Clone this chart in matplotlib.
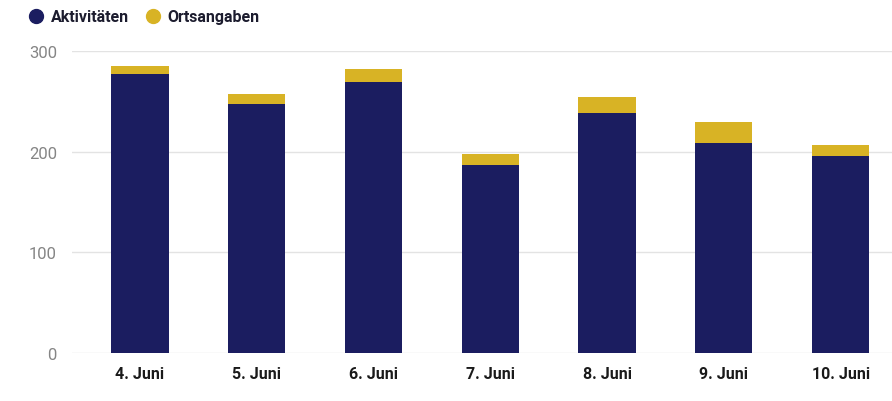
import matplotlib.pyplot as plt
from matplotlib.lines import Line2D

# data
days = ['4. Juni', '5. Juni', '6. Juni', '7. Juni', '8. Juni', '9. Juni', '10. Juni']
aktivitaeten = [277, 247, 269, 187, 238, 209, 196]
ortsangaben = [8, 10, 13, 11, 16, 20, 11]

navy = '#1b1d60'
gold = '#d8b325'

fig = plt.figure(figsize=(8.92, 4.02), dpi=100)
ax = fig.add_axes([0.081, 0.119, 0.919, 0.752])

x = range(len(days))
ax.bar(x, aktivitaeten, width=0.49, color=navy, zorder=3)
ax.bar(x, ortsangaben, width=0.49, bottom=aktivitaeten, color=gold, zorder=3)

ax.set_xlim(-0.58, 6.44)
ax.set_ylim(0, 300)
ax.set_yticks([0, 100, 200, 300])
ax.set_xticks(list(x))
ax.set_xticklabels(days, fontsize=11.5, color='#1a1a1a',
                   family=['Roboto', 'DejaVu Sans'], fontweight='bold')
for lab in ax.get_yticklabels():
    lab.set_fontsize(12)
    lab.set_color('#858585')
    lab.set_family(['Roboto', 'DejaVu Sans'])
ax.tick_params(axis='both', length=0)
ax.tick_params(axis='y', pad=11)
ax.tick_params(axis='x', pad=9)
ax.grid(axis='y', color='#e3e3e3', linewidth=1, zorder=0)
for s in ax.spines.values():
    s.set_visible(False)

handles = [Line2D([], [], marker='o', linestyle='', markersize=10, color=navy),
           Line2D([], [], marker='o', linestyle='', markersize=10, color=gold)]
fig.legend(handles, ['Aktivitäten', 'Ortsangaben'], loc='upper left',
           bbox_to_anchor=(0.014, 1.01), ncol=2, frameon=False,
           handletextpad=0.3, columnspacing=0.9, handlelength=1.2,
           prop={'family': ['Roboto', 'DejaVu Sans'], 'size': 11.5, 'weight': 'bold'},
           labelcolor='#1c1c2e')

plt.savefig('out.png', dpi=100)
plt.close()
